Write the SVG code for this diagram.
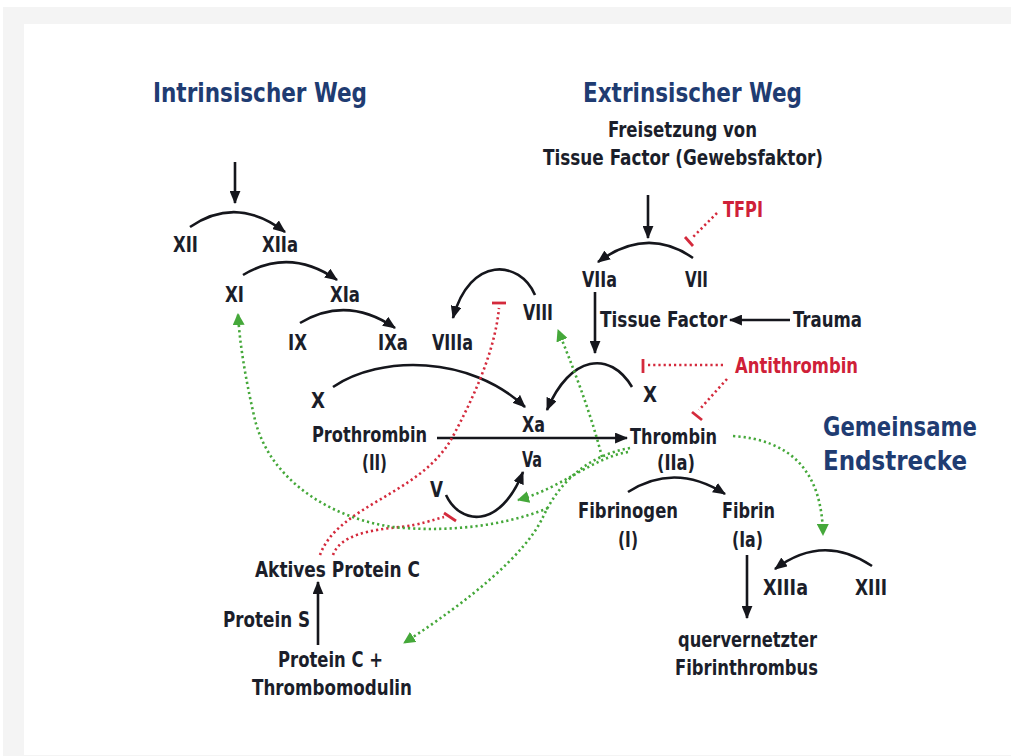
<svg xmlns="http://www.w3.org/2000/svg" width="1011" height="756" viewBox="0 0 1011 756">
<defs>
<style>
.t{font-family:"Liberation Sans Narrow","DejaVu Sans Condensed","Liberation Sans",Arial,sans-serif;font-weight:bold;font-size:20.5px;fill:#1b1e2a}
.h{font-family:"Liberation Sans Narrow","DejaVu Sans Condensed","Liberation Sans",Arial,sans-serif;font-weight:bold;font-size:27px;fill:#1f3c72}
.r{fill:#cf2038}
.a{fill:none;stroke:#15161c;stroke-width:2.6}
.ad{marker-end:url(#ah)}
.rd{fill:none;stroke:#d42a3c;stroke-width:2.6;stroke-dasharray:2.2 3}
.rb{fill:none;stroke:#d42a3c;stroke-width:2.8}
.gd{fill:none;stroke:#45a83a;stroke-width:2.6;stroke-dasharray:2.2 3;marker-end:url(#gh)}
</style>
<marker id="ah" viewBox="0 0 12 10" refX="11" refY="5" markerWidth="13" markerHeight="11" orient="auto" markerUnits="userSpaceOnUse"><path d="M0,0 L12,5 L0,10 z" fill="#15161c"/></marker>
<marker id="gh" viewBox="0 0 12 12" refX="11" refY="6" markerWidth="12" markerHeight="12" orient="auto" markerUnits="userSpaceOnUse"><path d="M0,0 L12,6 L0,12 z" fill="#45a83a"/></marker>
</defs>
<rect x="3" y="7" width="1008" height="749" fill="#f4f4f4"/>
<rect x="24" y="24" width="987" height="731" fill="#ffffff"/>

<g id="connectors">
<path class="a ad" d="M235,162 L235,203"/>
<path class="a ad" d="M190,227 Q237,195 285,232"/>
<path class="a ad" d="M243,275 Q290,247 337,280"/>
<path class="a ad" d="M300,323 Q347,295 395,328"/>
<path class="a ad" d="M333,387 C380,355 470,355 525,407"/>
<path class="a ad" d="M535,295 C520,260 470,255 453,318"/>
<path class="a ad" d="M648,195 L648,238"/>
<path class="a ad" d="M693,258 Q647,226 598,262"/>
<path class="a ad" d="M595,292 L595,353"/>
<path class="a ad" d="M790,320 L730,320"/>
<path class="a ad" d="M632,387 C610,350 570,355 547,410"/>
<path class="a ad" d="M437,438 L627,438"/>
<path class="a ad" d="M446,495 C460,525 500,530 523,472"/>
<path class="a ad" d="M628,492 Q675,462 725,494"/>
<path class="a ad" d="M872,566 Q823,533 775,569"/>
<path class="a ad" d="M747,555 L747,618"/>
<path class="a ad" d="M318,645 L318,582"/>

<path class="rd" d="M717,213 L692,238"/>
<path class="rb" d="M685,237 L693,246"/>
<path class="rd" d="M723,365 L647,365"/>
<path class="rb" d="M643,359 L643,373"/>
<path class="rd" d="M727,379 L699,410"/>
<path class="rb" d="M692,412 L702,420"/>
<path class="rd" d="M320,555 C338,505 420,495 452,438 C475,395 495,350 499,308"/>
<path class="rb" d="M492,303 L506,303"/>
<path class="rd" d="M333,555 C340,535 370,530 400,527 C420,525 432,520 444,517"/>
<path class="rb" d="M444,513 L456,521"/>

<path class="gd" d="M733,436 C790,440 822,470 823,535"/>
<path class="gd" d="M602,457 C590,410 572,365 558,330"/>
<path class="gd" d="M628,452 C592,458 562,488 518,500"/>
<path class="gd" d="M630,448 C590,455 560,480 543,517 C525,555 470,600 404,643"/>
<path class="gd" d="M548,508 C500,528 440,532 393,527 C330,518 270,480 255,420 C248,390 240,350 238,314"/>
</g>

<g id="title-intrinsic"><text class="h" x="153" y="102" textLength="214" lengthAdjust="spacingAndGlyphs">Intrinsischer Weg</text></g>
<g id="title-extrinsic"><text class="h" x="583" y="102" textLength="219" lengthAdjust="spacingAndGlyphs">Extrinsischer Weg</text></g>
<g id="title-common"><text class="h" x="823" y="436" textLength="154" lengthAdjust="spacingAndGlyphs">Gemeinsame</text><text class="h" x="823" y="470" textLength="144" lengthAdjust="spacingAndGlyphs">Endstrecke</text></g>
<g id="n-release"><text class="t" x="608" y="137" textLength="149" lengthAdjust="spacingAndGlyphs">Freisetzung von</text><text class="t" x="543" y="165" textLength="280" lengthAdjust="spacingAndGlyphs">Tissue Factor (Gewebsfaktor)</text></g>
<g id="n-xii"><text class="t" x="173" y="252" textLength="25" lengthAdjust="spacingAndGlyphs">XII</text></g>
<g id="n-xiia"><text class="t" x="262" y="252" textLength="36" lengthAdjust="spacingAndGlyphs">XIIa</text></g>
<g id="n-xi"><text class="t" x="225" y="302" textLength="19" lengthAdjust="spacingAndGlyphs">XI</text></g>
<g id="n-xia"><text class="t" x="330" y="302" textLength="30" lengthAdjust="spacingAndGlyphs">XIa</text></g>
<g id="n-ix"><text class="t" x="288" y="350" textLength="19" lengthAdjust="spacingAndGlyphs">IX</text></g>
<g id="n-ixa"><text class="t" x="378" y="350" textLength="30" lengthAdjust="spacingAndGlyphs">IXa</text></g>
<g id="n-viiia"><text class="t" x="432" y="350" textLength="41" lengthAdjust="spacingAndGlyphs">VIIIa</text></g>
<g id="n-viii"><text class="t" x="523" y="320" textLength="30" lengthAdjust="spacingAndGlyphs">VIII</text></g>
<g id="n-viia"><text class="t" x="582" y="287" textLength="35" lengthAdjust="spacingAndGlyphs">VIIa</text></g>
<g id="n-vii"><text class="t" x="685" y="287" textLength="23" lengthAdjust="spacingAndGlyphs">VII</text></g>
<g id="n-tfpi"><text class="t r" x="723" y="217" textLength="40" lengthAdjust="spacingAndGlyphs">TFPI</text></g>
<g id="n-tf"><text class="t" x="600" y="327" textLength="127" lengthAdjust="spacingAndGlyphs">Tissue Factor</text></g>
<g id="n-trauma"><text class="t" x="793" y="327" textLength="69" lengthAdjust="spacingAndGlyphs">Trauma</text></g>
<g id="n-at"><text class="t r" x="735" y="373" textLength="123" lengthAdjust="spacingAndGlyphs">Antithrombin</text></g>
<g id="n-x-right"><text class="t" x="643" y="402" textLength="14" lengthAdjust="spacingAndGlyphs">X</text></g>
<g id="n-x-left"><text class="t" x="311" y="408" textLength="14" lengthAdjust="spacingAndGlyphs">X</text></g>
<g id="n-xa"><text class="t" x="522" y="432" textLength="23" lengthAdjust="spacingAndGlyphs">Xa</text></g>
<g id="n-prothrombin"><text class="t" x="312" y="442" textLength="115" lengthAdjust="spacingAndGlyphs">Prothrombin</text><text class="t" x="362" y="470" textLength="25" lengthAdjust="spacingAndGlyphs">(II)</text></g>
<g id="n-va"><text class="t" x="522" y="467" textLength="20" lengthAdjust="spacingAndGlyphs">Va</text></g>
<g id="n-v"><text class="t" x="430" y="497" textLength="13" lengthAdjust="spacingAndGlyphs">V</text></g>
<g id="n-thrombin"><text class="t" x="630" y="444" textLength="87" lengthAdjust="spacingAndGlyphs">Thrombin</text><text class="t" x="657" y="470" textLength="38" lengthAdjust="spacingAndGlyphs">(IIa)</text></g>
<g id="n-fibrinogen"><text class="t" x="578" y="518" textLength="100" lengthAdjust="spacingAndGlyphs">Fibrinogen</text><text class="t" x="618" y="547" textLength="20" lengthAdjust="spacingAndGlyphs">(I)</text></g>
<g id="n-fibrin"><text class="t" x="722" y="518" textLength="53" lengthAdjust="spacingAndGlyphs">Fibrin</text><text class="t" x="732" y="547" textLength="31" lengthAdjust="spacingAndGlyphs">(Ia)</text></g>
<g id="n-xiiia"><text class="t" x="763" y="595" textLength="45" lengthAdjust="spacingAndGlyphs">XIIIa</text></g>
<g id="n-xiii"><text class="t" x="855" y="595" textLength="32" lengthAdjust="spacingAndGlyphs">XIII</text></g>
<g id="n-thrombus"><text class="t" x="678" y="647" textLength="139" lengthAdjust="spacingAndGlyphs">quervernetzter</text><text class="t" x="675" y="675" textLength="143" lengthAdjust="spacingAndGlyphs">Fibrinthrombus</text></g>
<g id="n-apc"><text class="t" x="255" y="577" textLength="165" lengthAdjust="spacingAndGlyphs">Aktives Protein C</text></g>
<g id="n-ps"><text class="t" x="223" y="627" textLength="87" lengthAdjust="spacingAndGlyphs">Protein S</text></g>
<g id="n-pc"><text class="t" x="278" y="667" textLength="105" lengthAdjust="spacingAndGlyphs">Protein C +</text><text class="t" x="252" y="695" textLength="160" lengthAdjust="spacingAndGlyphs">Thrombomodulin</text></g>
</svg>
